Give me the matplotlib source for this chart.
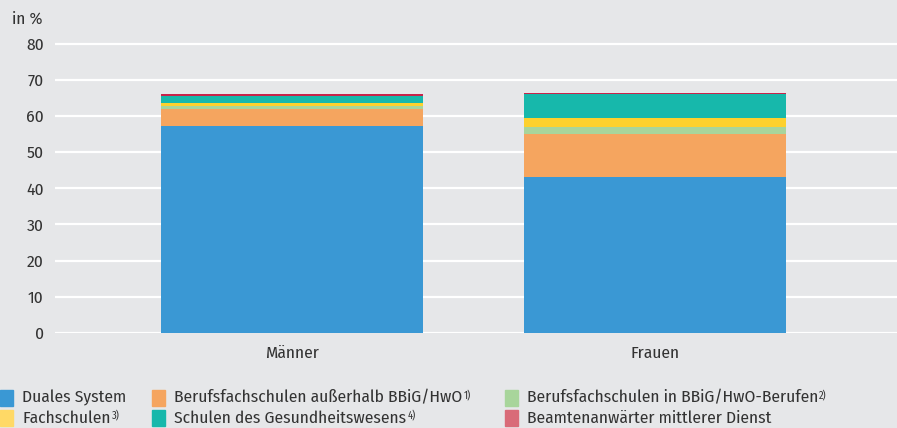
import matplotlib
matplotlib.use("Agg")
import matplotlib.pyplot as plt
from matplotlib.patches import Rectangle

# --- data ---
groups = ["Männer", "Frauen"]
segment_names = [
    "Duales System",
    "Berufsfachschulen außerhalb BBiG/HwO",
    "Berufsfachschulen in BBiG/HwO-Berufen",
    "Fachschulen",
    "Schulen des Gesundheitswesens",
    "Beamtenanwärter mittlerer Dienst",
]
footnotes = ["", "1)", "2)", "3)", "4)", ""]
duales = [57.2, 43.1]
bfs_ausserhalb = [4.8, 11.9]
bfs_in = [0.8, 2.0]
fachschulen = [0.8, 2.4]
gesundheit = [2.0, 6.7]
beamte = [0.5, 0.3]
yticks = [0, 10, 20, 30, 40, 50, 60, 70, 80]

# --- style ---
BG = "#e6e7e9"
bar_colors = ["#3a98d4", "#f5a55f", "#a8d59b", "#fdd12d", "#17b8ab", "#c8234a"]
legend_colors = ["#3a98d4", "#f5a55f", "#a8d59b", "#ffd966", "#17b8ab", "#d96b78"]
FONT = ["Fira Sans Condensed", "DejaVu Sans"]
TXT = "#333333"

plt.rcParams["font.family"] = FONT

fig = plt.figure(figsize=(8.97, 4.28), dpi=100, facecolor=BG)
ax = fig.add_axes([0.0613, 0.222, 1 - 0.0613, 0.9068 - 0.222])
ax.set_facecolor(BG)

x = [0, 1]
series = [duales, bfs_ausserhalb, bfs_in, fachschulen, gesundheit, beamte]
bottom = [0.0, 0.0]
for vals, col in zip(series, bar_colors):
    ax.bar(x, vals, width=0.72, bottom=bottom, color=col, zorder=3, linewidth=0)
    bottom = [b + v for b, v in zip(bottom, vals)]

ax.set_ylim(0, 81)
ax.set_xlim(-0.653, 1.667)
ax.set_yticks(yticks)
ax.set_xticks(x)
ax.set_xticklabels(groups)
ax.yaxis.grid(True, color="white", linewidth=1.6, zorder=1)
ax.set_axisbelow(True)
for s in ax.spines.values():
    s.set_visible(False)
ax.tick_params(axis="both", length=0, labelsize=12.5, colors=TXT)
ax.tick_params(axis="y", pad=8)
ax.tick_params(axis="x", pad=9)

fig.text(12 / 897, 1 - 19 / 428, "in %", fontsize=12.5, color=TXT, va="center", ha="left")

# --- legend, drawn by hand in figure pixels ---
W, H = 897.0, 428.0
col_x = [0, 152, 505]
row_y = [398, 418]
renderer = fig.canvas.get_renderer()
for i, (name, note, col) in enumerate(zip(segment_names, footnotes, legend_colors)):
    r, c = divmod(i, 3)
    sx, sy = col_x[c], row_y[r]
    fig.patches.append(Rectangle((sx / W, 1 - (sy + 8) / H), 13 / W, 16 / H,
                                 transform=fig.transFigure, color=col, zorder=2))
    t = fig.text((sx + 22) / W, 1 - sy / H, name, fontsize=12.5, color=TXT,
                 va="center", ha="left")
    if note:
        bb = t.get_window_extent(renderer)
        fig.text((bb.x1 + 1) / W, 1 - (sy - 3) / H, note, fontsize=7.5,
                 color=TXT, va="center", ha="left")

fig.savefig("out.png", dpi=100, facecolor=BG)
